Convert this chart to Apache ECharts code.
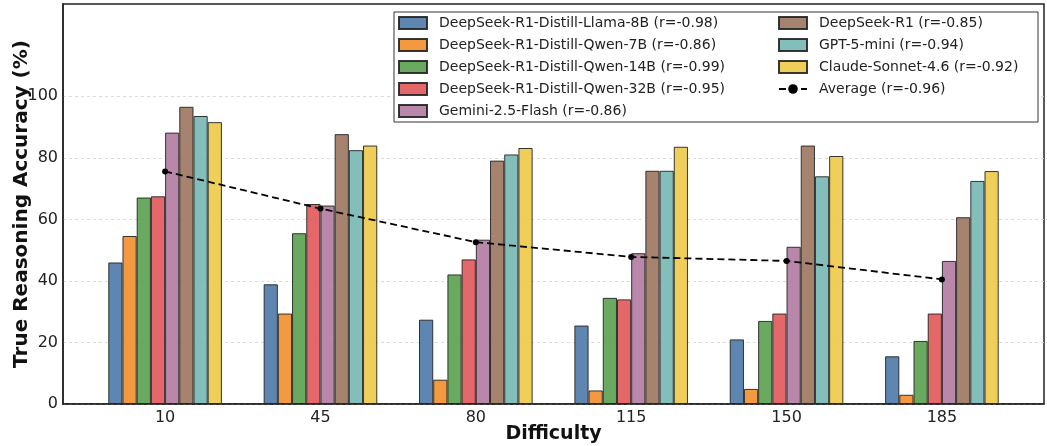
<!DOCTYPE html>
<html>
<head>
<meta charset="utf-8">
<script src="https://cdn.jsdelivr.net/npm/echarts@6/dist/echarts.min.js"></script>
<style>
  html, body { margin: 0; padding: 0; background: #fff; }
  #chart { width: 1047px; height: 446px; }
</style>
</head>
<body>
<div id="chart"></div>
<script>
// difficulty levels (x positions)
const difficulty = [10, 45, 80, 115, 150, 185];

const models = [
  "DeepSeek-R1-Distill-Llama-8B (r=-0.98)",
  "DeepSeek-R1-Distill-Qwen-7B (r=-0.86)",
  "DeepSeek-R1-Distill-Qwen-14B (r=-0.99)",
  "DeepSeek-R1-Distill-Qwen-32B (r=-0.95)",
  "Gemini-2.5-Flash (r=-0.86)",
  "DeepSeek-R1 (r=-0.85)",
  "GPT-5-mini (r=-0.94)",
  "Claude-Sonnet-4.6 (r=-0.92)"
];
const avgName = "Average (r=-0.96)";

const llama8b  = [46.0, 38.9, 27.4, 25.5, 21.0, 15.5];
const qwen7b   = [54.6, 29.4, 7.9, 4.4, 4.9, 3.0];
const qwen14b  = [67.1, 55.5, 42.1, 34.5, 27.0, 20.5];
const qwen32b  = [67.5, 65.0, 47.0, 34.0, 29.4, 29.4];
const gemini   = [88.2, 64.5, 53.4, 49.0, 51.1, 46.5];
const r1       = [96.6, 87.7, 79.1, 75.8, 84.0, 60.7];
const gpt5mini = [93.6, 82.5, 81.1, 75.8, 74.0, 72.5];
const claude   = [91.6, 84.0, 83.2, 83.6, 80.6, 75.7];
const average  = [75.6, 63.5, 52.6, 47.8, 46.5, 40.5];

const yTicks = [0, 20, 40, 60, 80, 100];

const colors = ["#4e79a7", "#f28e2b", "#59a14f", "#e15759", "#b07aa1", "#9c755f", "#76b7b2", "#edc948"];
const seriesValues = [llama8b, qwen7b, qwen14b, qwen32b, gemini, r1, gpt5mini, claude];

const font = "DejaVu Sans";

let series = seriesValues.map(function (vals, i) {
  return {
    name: models[i],
    type: "bar",
    barWidth: 14.2,
    barGap: "0%",
    data: vals.map(function (v, j) { return [difficulty[j], v]; }),
    itemStyle: {
      color: colors[i],
      opacity: 0.9,
      borderColor: "#222",
      borderWidth: 1
    }
  };
});

series.push({
  name: avgName,
  type: "line",
  data: average.map(function (v, j) { return [difficulty[j], v]; }),
  symbol: "circle",
  symbolSize: 6,
  z: 5,
  itemStyle: { color: "#000" },
  lineStyle: { color: "#000", width: 1.8, type: [7, 4] }
});

function legendItems(names) {
  return names.map(function (n) {
    return n === avgName ? { name: n } : { name: n, icon: "rect" };
  });
}

let legendBase = {
  orient: "vertical",
  top: 16,
  padding: 0,
  itemWidth: 28,
  itemHeight: 12,
  itemGap: 8,
  z: 5,
  textStyle: { fontFamily: font, fontSize: 14, color: "#222", padding: [0, 0, 0, 7] }
};

let chart = echarts.init(document.getElementById("chart"), null, { renderer: "canvas" });

chart.setOption({
  animation: false,
  textStyle: { fontFamily: font },
  grid: {
    left: 63, right: 3, top: 4, bottom: 42,
    outerBoundsMode: "none",
    containLabel: false,
    show: true, borderColor: "#222", borderWidth: 1.5, backgroundColor: "transparent"
  },
  xAxis: {
    type: "value",
    min: -13,
    max: 208,
    name: "Difficulty",
    nameLocation: "middle",
    nameGap: 21,
    nameMoveOverlap: false,
    nameTextStyle: { fontFamily: font, fontSize: 19, fontWeight: "bold", color: "#111" },
    axisLine: { show: true, onZero: false, lineStyle: { color: "#222", width: 1.5 } },
    axisTick: { show: false, customValues: difficulty },
    axisLabel: { customValues: difficulty, fontFamily: font, fontSize: 16, color: "#222", margin: 6 },
    splitLine: { show: false }
  },
  yAxis: {
    type: "value",
    min: 0,
    max: 130,
    name: "True Reasoning Accuracy (%)",
    nameLocation: "middle",
    nameGap: 31,
    nameMoveOverlap: false,
    nameTextStyle: { fontFamily: font, fontSize: 20, fontWeight: "bold", color: "#111" },
    axisLine: { show: true, onZero: false, lineStyle: { color: "#222", width: 1.5 } },
    axisTick: { show: false, customValues: yTicks },
    axisLabel: { customValues: yTicks, fontFamily: font, fontSize: 16, color: "#222", margin: 5 },
    splitLine: { show: true, lineStyle: { color: "#d5d5d5", type: [3, 3], width: 0.8 } }
  },
  graphic: [{
    type: "rect",
    z: 3,
    shape: { x: 394, y: 12, width: 644, height: 110 },
    style: { fill: "#fff", stroke: "#333", lineWidth: 1 }
  }],
  legend: [
    Object.assign({}, legendBase, { left: 398, data: legendItems(models.slice(0, 5)) }),
    Object.assign({}, legendBase, { left: 778, data: legendItems(models.slice(5).concat([avgName])) })
  ],
  series: series
});
</script>
</body>
</html>
